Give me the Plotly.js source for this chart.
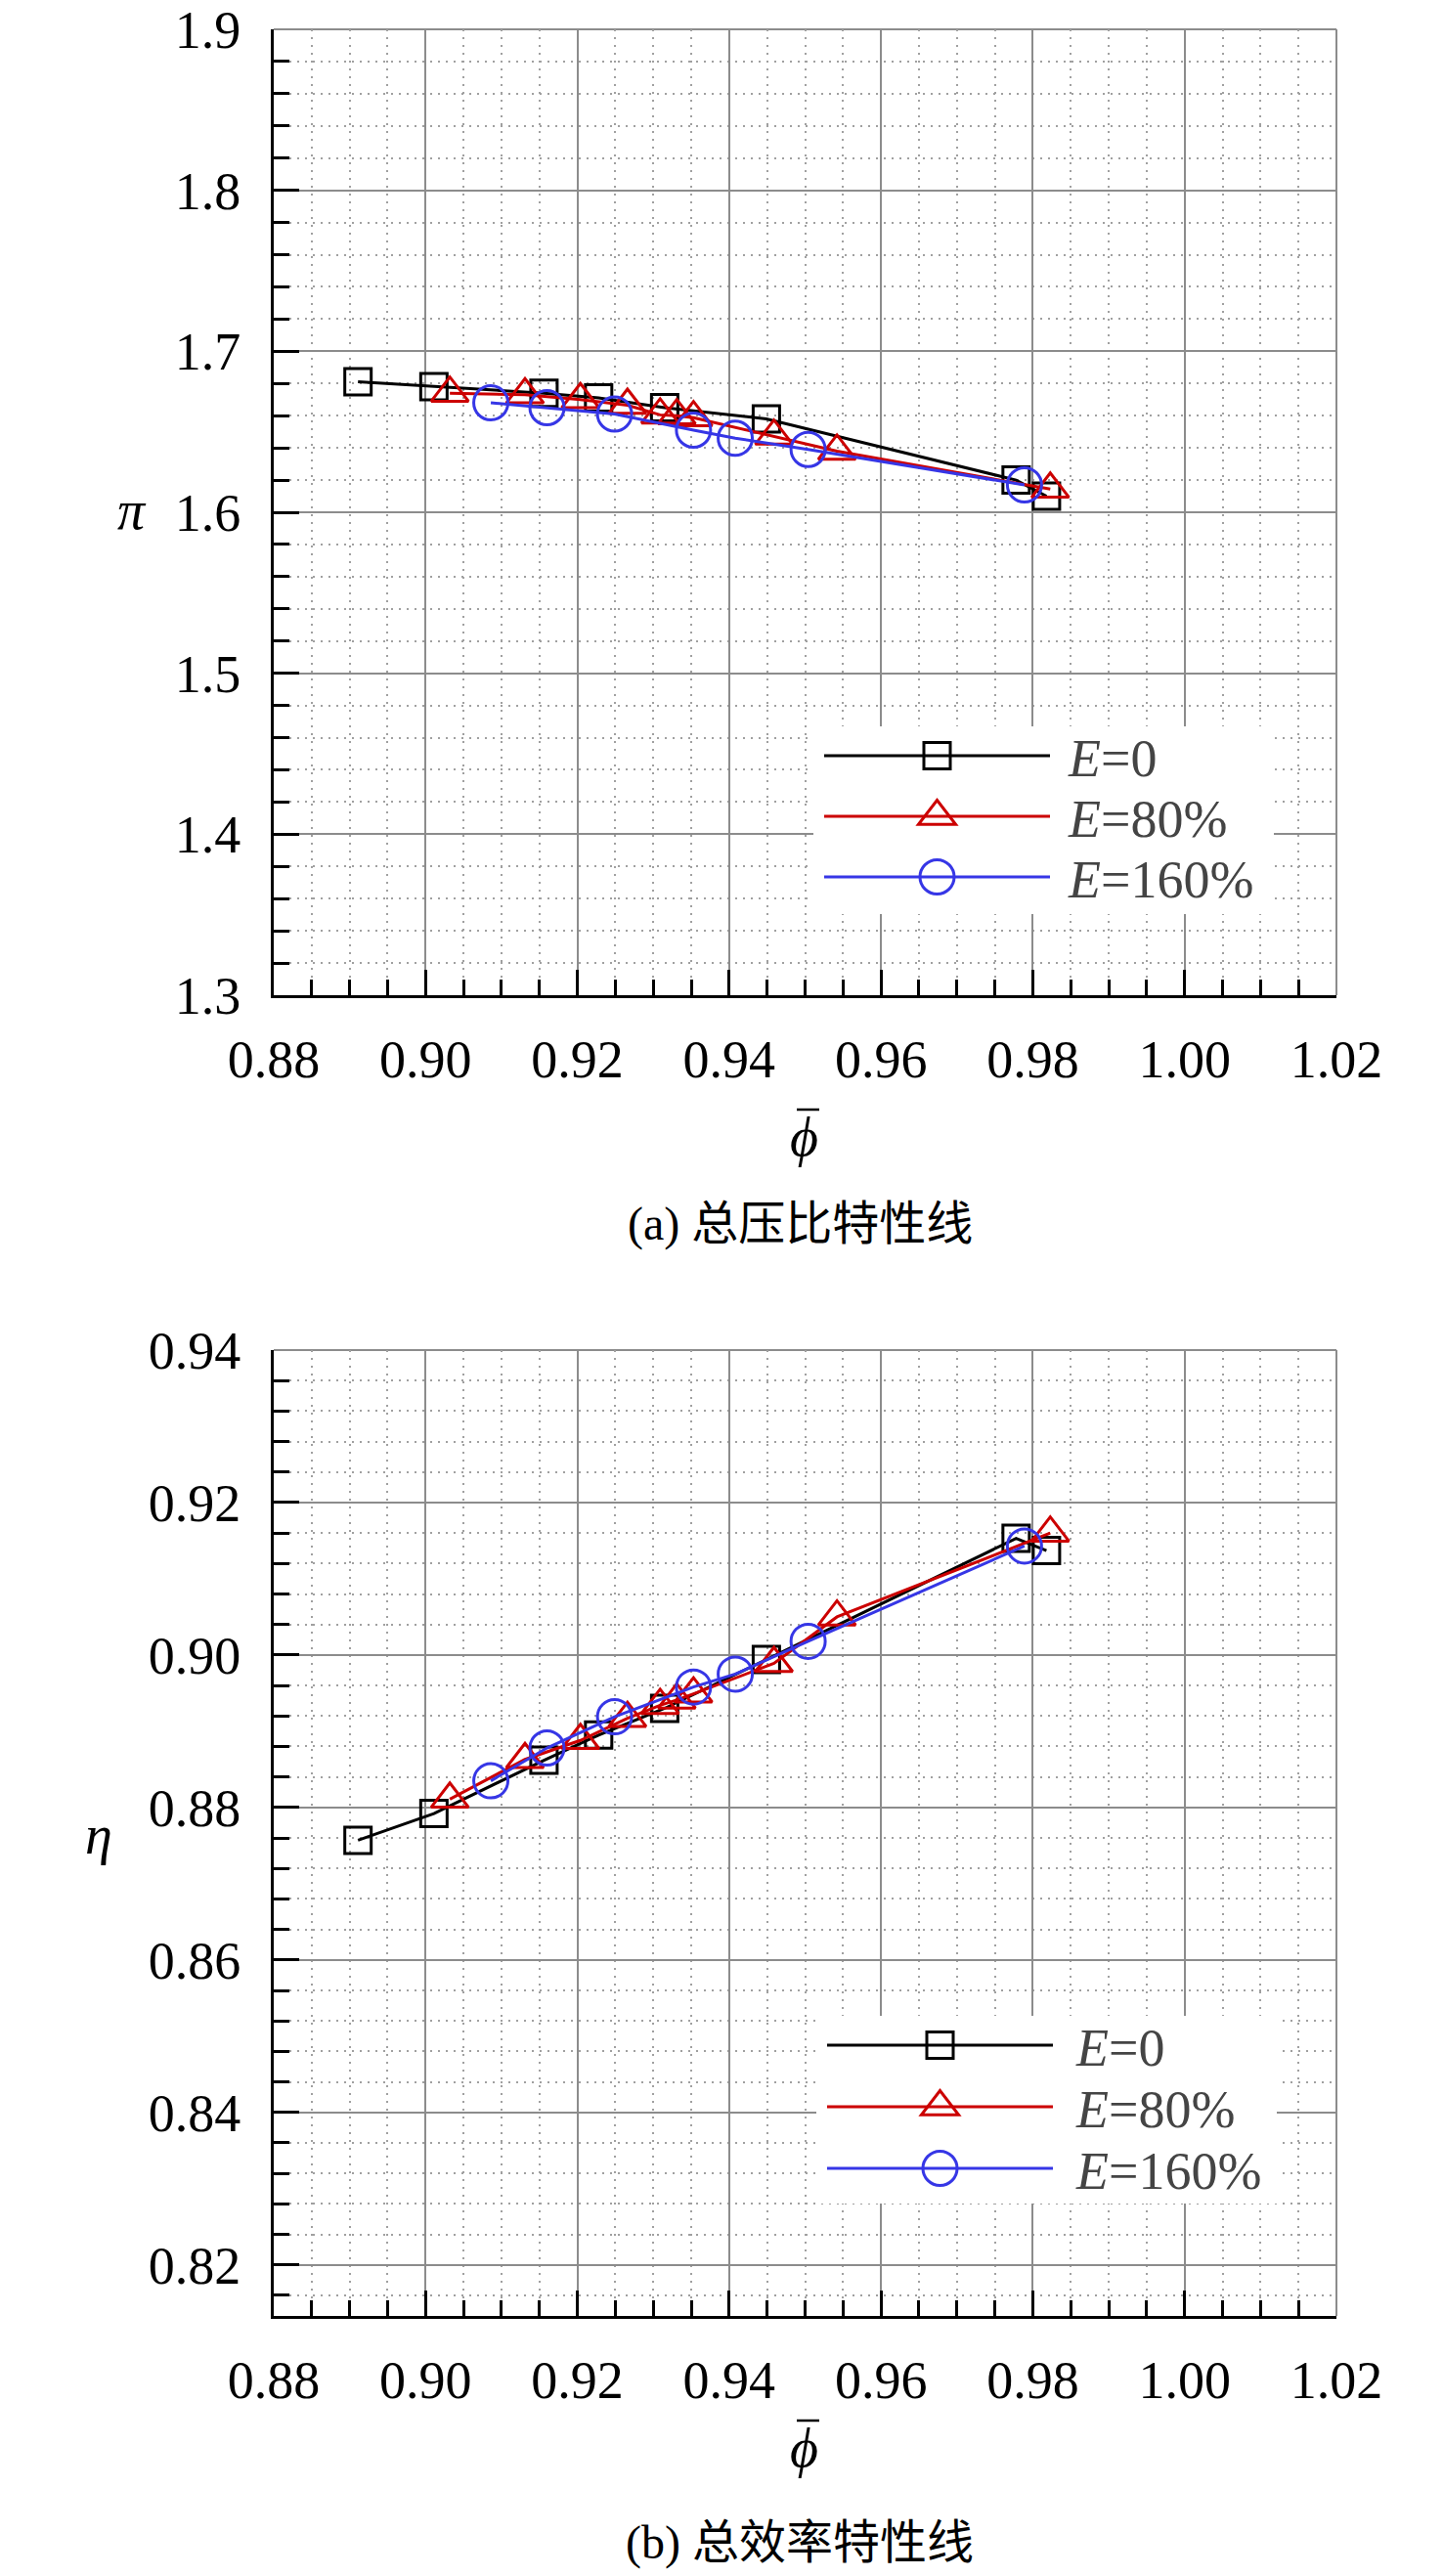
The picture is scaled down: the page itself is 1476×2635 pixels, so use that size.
<!DOCTYPE html>
<html><head><meta charset="utf-8">
<script src="https://cdn.plot.ly/plotly-3.0.1.min.js"></script>
<style>
html,body{margin:0;padding:0;background:#fff;}
#chart{width:1476px;height:2635px;}
#chart svg text{font-family:'Liberation Serif','Times New Roman','Tinos','DejaVu Serif','Noto Sans CJK SC',serif !important;}
</style>
</head><body>
<div id="chart"></div>
<script>
// ---------------- data ----------------
const seriesNames = ['<i>E</i>=0', '<i>E</i>=80%', '<i>E</i>=160%'];
// E = 0
const phiE0 = [0.8911, 0.9011, 0.9156, 0.9228, 0.9315, 0.9449, 0.9778, 0.9818];
const piE0  = [1.681, 1.678, 1.674, 1.671, 1.665, 1.658, 1.620, 1.610];
const etaE0 = [0.8757, 0.8792, 0.8862, 0.8895, 0.8930, 0.8994, 0.9153, 0.9137];
// E = 80%
const phiE80 = [0.9032, 0.9131, 0.9204, 0.9266, 0.9309, 0.9331, 0.9353, 0.9459, 0.9542, 0.9823];
const piE80  = [1.674, 1.673, 1.670, 1.6665, 1.6605, 1.660, 1.6588, 1.6473, 1.638, 1.6144];
const etaE80 = [0.8811, 0.8863, 0.8888, 0.8917, 0.8934, 0.8941, 0.8949, 0.8989, 0.9050, 0.9160];
// E = 160%
const phiE160 = [0.9086, 0.9160, 0.9249, 0.9353, 0.9408, 0.9504, 0.9789];
const piE160  = [1.668, 1.665, 1.661, 1.651, 1.646, 1.639, 1.617];
const etaE160 = [0.8835, 0.8878, 0.8919, 0.8958, 0.8975, 0.9018, 0.9143];

const captions = ['(a) 总压比特性线', '(b) 总效率特性线'];
const yTitles = ['<i>π</i>', '<i>η</i>'];
const xTitle = '<i>ϕ</i>';

// ---------------- styling ----------------
const W = 1476, H = 2635;
const FONT = 'Liberation Serif';
const colors = ['#000000', '#cc0000', '#3636e6'];
const symbols = ['square-open', 'triangle-up-open', 'circle-open'];
const sizes = [27, 33, 35];
const px = x => x / W;
const py = y => 1 - y / H;

function makeTrace(x, y, k, xa, ya, leg) {
  return {
    type: 'scatter', mode: 'lines+markers', x: x, y: y, xaxis: xa, yaxis: ya,
    name: seriesNames[k], legend: leg, showlegend: true,
    line: {color: colors[k], width: 3},
    marker: {symbol: symbols[k], size: sizes[k], color: colors[k], line: {width: 3, color: colors[k]}}
  };
}

const data = [
  makeTrace(phiE0, piE0, 0, 'x', 'y', 'legend'),
  makeTrace(phiE80, piE80, 1, 'x', 'y', 'legend'),
  makeTrace(phiE160, piE160, 2, 'x', 'y', 'legend'),
  makeTrace(phiE0, etaE0, 0, 'x2', 'y2', 'legend2'),
  makeTrace(phiE80, etaE80, 1, 'x2', 'y2', 'legend2'),
  makeTrace(phiE160, etaE160, 2, 'x2', 'y2', 'legend2')
];

const common = {
  showline: true, linecolor: '#000', linewidth: 3,
  ticks: 'inside', ticklen: 26, tickwidth: 3, tickcolor: '#000',
  showgrid: true, gridcolor: '#8c8c8c', gridwidth: 2, zeroline: false,
  tickfont: {family: FONT, size: 54, color: '#000'},
  automargin: false
};
function minor(t0, dt) {
  return {tick0: t0, dtick: dt, ticks: 'inside', ticklen: 16, tickwidth: 3, tickcolor: '#000',
          showgrid: true, gridcolor: '#a0a0a0', gridwidth: 2, griddash: '2px,6px'};
}
function xAxis(anchor) {
  return Object.assign({}, common, {
    domain: [px(280), px(1367)], anchor: anchor, range: [0.88, 1.02],
    tick0: 0.88, dtick: 0.02, tickformat: '.2f', minor: minor(0.88, 0.005),
    ticklabelstandoff: 16
  });
}

function border(xr, yr, vertical) {
  return {type: 'line', xref: xr + ' domain', yref: yr + ' domain',
          x0: vertical ? 1 : 0, x1: 1, y0: vertical ? 0 : 1, y1: 1,
          line: {color: '#8c8c8c', width: 2}, layer: 'below'};
}
// overbar of the phi-bar axis title
function bar(yPix) {
  return {type: 'line', xref: 'paper', yref: 'paper', x0: px(815), x1: px(838), y0: py(yPix), y1: py(yPix),
          line: {color: '#000', width: 2.5}};
}
function label(text, x, y, size) {
  return {xref: 'paper', yref: 'paper', x: px(x), y: py(y), xanchor: 'center', yanchor: 'middle', showarrow: false,
          text: text, font: {family: FONT, size: size, color: '#000'}};
}

const layout = {
  width: W, height: H, margin: {l: 0, r: 0, t: 0, b: 0},
  font: {family: FONT},
  xaxis: xAxis('y'),
  xaxis2: xAxis('y2'),
  yaxis: Object.assign({}, common, {
    domain: [py(1018), py(30)], anchor: 'x', range: [1.3, 1.9],
    tick0: 1.3, dtick: 0.1, tickformat: '.1f', minor: minor(1.3, 0.02), ticklabelstandoff: 20
  }),
  yaxis2: Object.assign({}, common, {
    domain: [py(2369), py(1381)], anchor: 'x2', range: [0.8133, 0.94],
    tick0: 0.82, dtick: 0.02, tickformat: '.2f', minor: minor(0.82, 0.004), ticklabelstandoff: 20
  }),
  legend: {x: px(832), y: py(743), xanchor: 'left', yanchor: 'top', bgcolor: '#fff', borderwidth: 0,
           font: {family: FONT, size: 54}, itemwidth: 250},
  legend2: {x: px(835), y: py(2062), xanchor: 'left', yanchor: 'top', bgcolor: '#fff', borderwidth: 0,
           font: {family: FONT, size: 54}, itemwidth: 250},
  shapes: [
    border('x', 'y', false), border('x', 'y', true),
    border('x2', 'y2', false), border('x2', 'y2', true),
    bar(1135), bar(2476)
  ],
  annotations: [
    label(yTitles[0], 135, 522, 56),
    label(yTitles[1], 101, 1877, 56),
    label(xTitle, 822, 1163, 56),
    label(xTitle, 822, 2504, 56),
    label(captions[0], 818, 1252, 48),
    label(captions[1], 818, 2601, 48)
  ]
};

// legend geometry tweak: long sample lines, full-size symbols and tight rows as in the reference
const legendSpecs = [
  {cls: 'legend', rows: [773, 835, 897], x0: 843, bg: [832, 743, 471, 192], traceIdx: [0, 1, 2]},
  {cls: 'legend2', rows: [2092, 2155, 2218], x0: 846, bg: [835, 2062, 471, 192], traceIdx: [3, 4, 5]}
];
const LINE_LEN = 231, TEXT_GAP = 19;
function fixLegends() {
  const dataTraces = document.querySelectorAll('.scatterlayer .trace');
  legendSpecs.forEach(spec => {
    const g = document.querySelector('g.' + spec.cls);
    if (!g) return;
    g.querySelectorAll('[clip-path]').forEach(e => e.removeAttribute('clip-path'));
    const traces = g.querySelectorAll('g.traces');
    traces.forEach((t, i) => {
      if (i >= spec.rows.length) return;
      const p = t.parentNode.getCTM();
      t.setAttribute('transform', 'translate(' + (spec.x0 - 5 - p.e) + ',' + (spec.rows[i] - p.f) + ')');
      const ln = t.querySelector('path.js-line');
      if (ln) ln.setAttribute('d', 'M5,0h' + LINE_LEN);
      let d = null;
      const dt = dataTraces[spec.traceIdx[i]];
      if (dt) { const pp = dt.querySelector('.points path'); if (pp) d = pp.getAttribute('d'); }
      t.querySelectorAll('.legendpoints path').forEach(pt => {
        pt.setAttribute('transform', 'translate(' + (5 + LINE_LEN / 2) + ',0)');
        if (d) pt.setAttribute('d', d);
        pt.style.strokeWidth = '3px';
      });
      const tx = t.querySelector('text.legendtext');
      if (tx) {
        tx.setAttribute('x', 5 + LINE_LEN + TEXT_GAP);
        tx.querySelectorAll('tspan.line').forEach(s => s.setAttribute('x', 5 + LINE_LEN + TEXT_GAP));
      }
    });
    const r = g.querySelector('rect.bg');
    if (r) {
      const m = g.getCTM();
      r.setAttribute('x', spec.bg[0] - m.e);
      r.setAttribute('y', spec.bg[1] - m.f);
      r.setAttribute('width', spec.bg[2]);
      r.setAttribute('height', spec.bg[3]);
    }
  });
}

Plotly.newPlot('chart', data, layout, {displayModeBar: false}).then(gd => {
  fixLegends();
  gd.on('plotly_afterplot', fixLegends);
});
</script>
</body></html>
